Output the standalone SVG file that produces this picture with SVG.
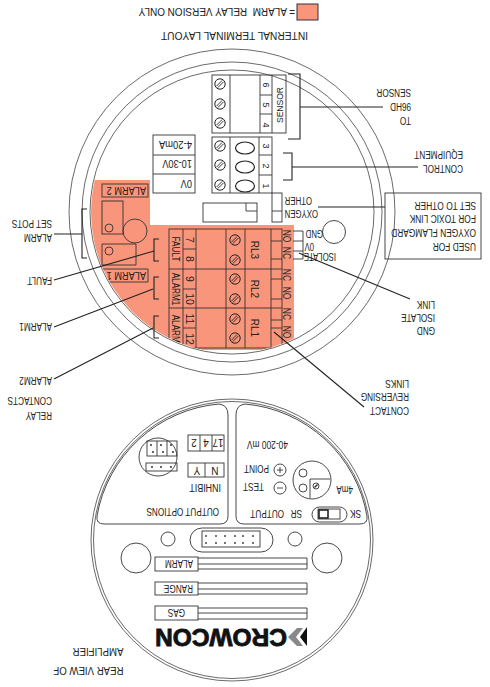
<svg xmlns="http://www.w3.org/2000/svg" width="490" height="687" viewBox="0 0 490 687">
<style>
text{font-family:"Liberation Sans",Arial,sans-serif;fill:#222}
.l{font-size:10.500px}
.s{font-size:10px}
.n{font-size:9px;text-anchor:middle}
.r{font-size:10.500px;text-anchor:middle}
.k{fill:none;stroke:#333;stroke-width:.9}
.t{fill:none;stroke:#222;stroke-width:1.2}
.a{fill:none;stroke:#444;stroke-width:.8}
.b{fill:none;stroke:#222;stroke-width:1.1}
</style>
<defs>
<clipPath id="inner"><circle cx="232" cy="212" r="141"/></clipPath>
<g id="screw"><circle r="5.2" fill="none" stroke="#222" stroke-width="1"/><path d="M-3.6 2.2L2.2-3.6M-2.2 3.6L3.6-2.2" stroke="#222" stroke-width=".9"/></g>
</defs>

<g id="legend">
<rect x="297" y="4" width="21" height="16" fill="#f8957a" stroke="#333"/>
<text class="l" transform="translate(295,8) rotate(180) scale(.95,1)" xml:space="preserve">= ALARM  RELAY VERSION ONLY</text>
<text transform="translate(308,32) rotate(180) scale(.93,1)" style="font-size:11px">INTERNAL TERMINAL LAYOUT</text>
</g>

<g id="housing">
<circle class="a" cx="232" cy="212" r="163"/>
<circle class="a" cx="232" cy="212" r="150"/>
<circle class="a" cx="232" cy="212" r="142"/>
</g>

<g id="relay-area">
<path clip-path="url(#inner)" d="M90 180H150V225H294V350H90Z" fill="#f8957a"/>
</g>

<g id="sensor-terminals">
<rect class="k" x="212" y="75" width="74" height="58"/>
<path class="k" d="M230 75V133M260 75V133M272 75V133M260 95H272M260 114H272"/>
<use href="#screw" x="220" y="84"/><use href="#screw" x="220" y="104"/><use href="#screw" x="220" y="123"/>
<text class="n" transform="translate(266,85) rotate(90)" dy="3">6</text>
<text class="n" transform="translate(266,105) rotate(90)" dy="3">5</text>
<text class="n" transform="translate(266,125) rotate(90)" dy="3">4</text>
<text class="n" transform="translate(279,105) rotate(-90) scale(.95,1)" dy="3.500">SENSOR</text>
</g>

<g id="control-terminals">
<rect class="k" x="212" y="137" width="60" height="56"/>
<path class="k" d="M230 137V193M259 137V193M259 155H272M259 175H272"/>
<use href="#screw" x="220" y="146"/><use href="#screw" x="220" y="165"/><use href="#screw" x="220" y="185"/>
<ellipse class="t" cx="245" cy="148" rx="9.500" ry="6"/><ellipse class="t" cx="245" cy="167" rx="9.500" ry="6"/><ellipse class="t" cx="245" cy="186" rx="9.500" ry="6"/>
<text class="n" transform="translate(266,146) rotate(90)" dy="3">3</text>
<text class="n" transform="translate(266,166) rotate(90)" dy="3">2</text>
<text class="n" transform="translate(266,186) rotate(90)" dy="3">1</text>
</g>

<g id="supply-box">
<rect class="k" x="153" y="135" width="42" height="58"/>
<path class="k" d="M153 155H195M153 174H195"/>
<text class="l" transform="translate(192,141) rotate(180) scale(.9,1)">4-20mA</text>
<text class="l" transform="translate(192,160) rotate(180) scale(.88,1)">10-30V</text>
<text class="l" transform="translate(192,180) rotate(180) scale(.88,1)">0V</text>
</g>

<g id="oxygen-link">
<rect class="k" x="272" y="193" width="10" height="29"/>
<path class="k" d="M272 211H282"/>
<rect class="k" x="203" y="203" width="54" height="19"/>
<path class="k" d="M246 203V211H257"/>
<text class="s" transform="translate(312,197) rotate(180) scale(.78,1)">OTHER</text>
<text class="s" transform="translate(318,210) rotate(180) scale(.78,1)">OXYGEN</text>
</g>

<g id="isolate-link">
<circle class="k" cx="334" cy="232" r="11.500"/>
<path class="k" d="M293 231H303V259H293M293 241H303M293 251H303"/>
<text class="s" transform="translate(323,230) rotate(180) scale(.78,1)">GND</text>
<text class="s" transform="translate(314,243) rotate(180) scale(.78,1)">0V</text>
<text class="s" transform="translate(336,253) rotate(180) scale(.78,1)">ISOLATE</text>
</g>

<g id="alarm-pots">
<rect class="k" x="102" y="201" width="21" height="33"/>
<circle class="k" cx="109" cy="228" r="4"/>
<circle class="k" cx="135" cy="231" r="12"/>
<path class="k" clip-path="url(#inner)" d="M102 244H136V265H102Z"/>
<circle class="k" cx="109" cy="251" r="4"/>
<rect class="k" x="102" y="184" width="46" height="13"/>
<text class="l" transform="translate(146,187) rotate(180) scale(.88,1)">ALARM 2</text>
<g clip-path="url(#inner)">
<path class="k" d="M102 269H148V282H102Z"/>
<text class="l" transform="translate(146,272) rotate(180) scale(.88,1)">ALARM 1</text>
</g>
</g>

<g id="relay-terminals" clip-path="url(#inner)">
<rect class="k" x="169" y="229" width="113" height="119"/>
<path class="k" d="M183 229V348M196 229V348M226 229V348M245 229V348M271 229V348M169 269H271M169 308H271M183 249H196M183 289H196M183 328H196"/>
<path class="k" d="M271 241H282M271 259H282M271 269H282M271 279H282M271 299H282M271 308H282M271 320H282M271 328H282"/>
<use href="#screw" x="235" y="240"/><use href="#screw" x="235" y="260"/><use href="#screw" x="235" y="279"/><use href="#screw" x="235" y="299"/><use href="#screw" x="235" y="319"/><use href="#screw" x="235" y="338"/>
<text class="r" transform="translate(189.500,240) rotate(90)" dy="3.500">7</text>
<text class="r" transform="translate(189.500,259) rotate(90)" dy="3.500">8</text>
<text class="r" transform="translate(189.500,279) rotate(90)" dy="3.500">9</text>
<text class="r" transform="translate(189.500,299) rotate(90)" dy="3.500">10</text>
<text class="r" transform="translate(189.500,319) rotate(90)" dy="3.500">11</text>
<text class="r" transform="translate(189.500,339) rotate(90)" dy="3.500">12</text>
<text class="r" transform="translate(176,249) rotate(90) scale(.78,1)" dy="3.500">FAULT</text>
<text class="r" transform="translate(176,289) rotate(90) scale(.78,1)" dy="3.500">ALARM1</text>
<text class="r" transform="translate(176,331) rotate(90) scale(.78,1)" dy="3.500">ALARM2</text>
<text class="r" transform="translate(255,250) rotate(90) scale(.95,1)" dy="4">RL3</text>
<text class="r" transform="translate(255,289) rotate(90) scale(.95,1)" dy="4">RL2</text>
<text class="r" transform="translate(255,328) rotate(90) scale(.95,1)" dy="4">RL1</text>
</g>

<g id="link-labels">
<text class="s" style="text-anchor:middle" transform="translate(287,236) rotate(90) scale(.85,1)" dy="3.500">NO</text>
<text class="s" style="text-anchor:middle" transform="translate(287,253) rotate(90) scale(.85,1)" dy="3.500">NC</text>
<text class="s" style="text-anchor:middle" transform="translate(287,275) rotate(90) scale(.85,1)" dy="3.500">NC</text>
<text class="s" style="text-anchor:middle" transform="translate(287,293) rotate(90) scale(.85,1)" dy="3.500">NO</text>
<text class="s" style="text-anchor:middle" transform="translate(287,314) rotate(90) scale(.85,1)" dy="3.500">NC</text>
<text class="s" style="text-anchor:middle" transform="translate(287,332) rotate(90) scale(.85,1)" dy="3.500">NO</text>
</g>

<g id="connectors">
<path class="b" d="M288 74H300V139H288M300 107H383"/>
<path class="b" d="M283 153H292V180H283M292 167H418"/>
<path class="b" d="M318 207H385"/>
<path class="b" d="M299 253L410 299"/>
<path class="b" d="M274 332L364 407"/>
<path class="b" d="M87 209H82V258H87M54 234H82"/>
<path class="b" d="M159 239H154V261H159M154 251L54 280"/>
<path class="b" d="M159 277H154V299H159M153 289L54 327"/>
<path class="b" d="M159 316H154V338H159M153 328L54 379"/>
</g>

<g id="note-box">
<rect class="k" x="385" y="193" width="96" height="66"/>
<text class="l" transform="translate(476,243) rotate(180) scale(.8,1)">USED FOR</text>
<text class="l" transform="translate(476,229) rotate(180) scale(.8,1)">OXYGEN FLAMGARD</text>
<text class="l" transform="translate(476,215) rotate(180) scale(.8,1)">FOR TOXIC LINK</text>
<text class="l" transform="translate(476,202) rotate(180) scale(.8,1)">SET TO OTHER</text>
</g>

<g id="labels">
<text class="l" transform="translate(411,117) rotate(180) scale(.78,1)">TO</text>
<text class="l" transform="translate(411,103) rotate(180) scale(.78,1)">96HD</text>
<text class="l" transform="translate(411,89) rotate(180) scale(.78,1)">SENSOR</text>
<text class="l" transform="translate(463,165) rotate(180) scale(.78,1)">CONTROL</text>
<text class="l" transform="translate(463,151) rotate(180) scale(.78,1)">EQUIPMENT</text>
<text class="l" transform="translate(435,327) rotate(180) scale(.78,1)">GND</text>
<text class="l" transform="translate(435,314) rotate(180) scale(.78,1)">ISOLATE</text>
<text class="l" transform="translate(435,301) rotate(180) scale(.78,1)">LINK</text>
<text class="l" transform="translate(409,407) rotate(180) scale(.78,1)">CONTACT</text>
<text class="l" transform="translate(409,393) rotate(180) scale(.78,1)">REVERSING</text>
<text class="l" transform="translate(409,380) rotate(180) scale(.78,1)">LINKS</text>
<text class="l" transform="translate(52,234) rotate(180) scale(.78,1)">ALARM</text>
<text class="l" transform="translate(52,220) rotate(180) scale(.78,1)">SET POTS</text>
<text class="l" transform="translate(52,277) rotate(180) scale(.78,1)">FAULT</text>
<text class="l" transform="translate(52,323) rotate(180) scale(.78,1)">ALARM1</text>
<text class="l" transform="translate(52,377) rotate(180) scale(.78,1)">ALARM2</text>
<text class="l" transform="translate(52,397) rotate(180) scale(.78,1)">CONTACTS</text>
<text class="l" transform="translate(52,412) rotate(180) scale(.78,1)">RELAY</text>
<text class="l" transform="translate(123.500,648) rotate(180) scale(.92,1)">AMPLIFIER</text>
<text class="l" transform="translate(123.500,667) rotate(180) scale(.92,1)">REAR VIEW OF</text>
</g>

<g id="amplifier-body">
<circle class="a" cx="232" cy="540" r="141"/>
<circle class="a" cx="232" cy="540" r="138.500"/>
</g>

<g id="output-options">
<path class="k" d="M219 404Q228 405 228 415V516Q228 524 220 524H104Q96 524 97 516A136 136 0 0 1 219 404Z"/>
<circle class="k" cx="158" cy="457" r="19"/>
<rect class="k" x="147" y="441" width="30" height="15"/>
<path class="k" d="M157 441V456M167 441V456"/>
<g fill="#333"><circle cx="151" cy="445" r="1"/><circle cx="153" cy="452" r="1"/><circle cx="161" cy="445" r="1"/><circle cx="163" cy="452" r="1"/><circle cx="171" cy="445" r="1"/><circle cx="173" cy="452" r="1"/><circle cx="152" cy="467" r="1"/><circle cx="161" cy="467" r="1"/><circle cx="171" cy="467" r="1"/></g>
<rect class="k" x="146" y="463" width="31" height="8"/>
<rect class="k" x="188" y="435" width="36" height="16"/>
<path class="k" d="M200 435V451M212 435V451"/>
<text class="s" style="text-anchor:middle" transform="translate(194,439) rotate(180)">2</text>
<text class="s" style="text-anchor:middle" transform="translate(206,439) rotate(180)">4</text>
<text class="s" style="text-anchor:middle" transform="translate(218,439) rotate(180)">17</text>
<rect class="k" x="188" y="463" width="36" height="14"/>
<path class="k" d="M205 463V477"/>
<text class="s" style="text-anchor:middle" transform="translate(197,467) rotate(180)">Y</text>
<text class="s" style="text-anchor:middle" transform="translate(215,467) rotate(180)">N</text>
<text class="l" transform="translate(221,484) rotate(180) scale(.85,1)">INHIBIT</text>
<text class="l" transform="translate(219,508) rotate(180) scale(.78,1)">OUTPUT OPTIONS</text>
</g>

<g id="output-panel">
<path class="k" d="M245 404Q236 405 236 415V516Q236 524 244 524H360Q368 524 367 516A136 136 0 0 0 245 404Z"/>
<text class="l" transform="translate(288,441) rotate(180) scale(.8,1)">40-200 mV</text>
<circle class="k" cx="312" cy="480" r="19"/>
<circle class="k" cx="303" cy="473" r="4"/><circle class="k" cx="303" cy="488" r="4"/>
<path class="k" d="M310 498V479H330"/>
<circle class="k" cx="316" cy="486" r="3"/><path d="M314.500 487.500L317.500 484.500" stroke="#222" stroke-width="1.200"/>
<text class="l" transform="translate(353,486) rotate(180) scale(.78,1)">4mA</text>
<circle class="k" cx="280" cy="470" r="6"/><path class="k" d="M277 470H283M280 467V473"/>
<circle class="k" cx="280" cy="488" r="6"/><path class="k" d="M277 488H283"/>
<text class="l" transform="translate(269,465) rotate(180) scale(.78,1)">POINT</text>
<text class="l" transform="translate(264,483) rotate(180) scale(.78,1)">TEST</text>
<text class="l" transform="translate(284,510) rotate(180) scale(.78,1)">OUTPUT</text>
<text class="l" transform="translate(302,510) rotate(180) scale(.78,1)">SR</text>
<text class="l" transform="translate(361,510) rotate(180) scale(.78,1)">SK</text>
<rect class="k" x="312" y="507" width="35" height="15" rx="7.500"/>
<rect class="k" x="318" y="509" width="22" height="10"/>
<rect x="319" y="510" width="9" height="8" fill="#fff" stroke="#222" stroke-width="1.600"/>
</g>

<g id="front-panel">
<rect class="k" x="190" y="528" width="83" height="24" rx="12"/>
<rect class="k" x="202" y="531" width="58" height="16"/>
<g fill="#333"><circle cx="206" cy="536" r=".9"/><circle cx="216" cy="536" r=".9"/><circle cx="225" cy="536" r=".9"/><circle cx="235" cy="536" r=".9"/><circle cx="243" cy="536" r=".9"/><circle cx="253" cy="536" r=".9"/><circle cx="206" cy="543" r=".9"/><circle cx="216" cy="543" r=".9"/><circle cx="225" cy="543" r=".9"/><circle cx="235" cy="543" r=".9"/><circle cx="243" cy="543" r=".9"/><circle cx="253" cy="543" r=".9"/></g>
<circle class="k" cx="168" cy="539" r="7"/><circle class="k" cx="295" cy="539" r="7"/>
<circle class="k" cx="136" cy="558" r="15"/><circle class="k" cx="327" cy="558" r="15"/>
<rect class="k" x="155" y="557" width="43" height="14"/><path class="k" d="M198 558H307V569H198M198 564H307"/>
<text class="l" transform="translate(193,560) rotate(180) scale(.78,1)">ALARM</text>
<rect class="k" x="155" y="582" width="43" height="13"/><path class="k" d="M198 583H307V594H198M198 589H307"/>
<text class="l" transform="translate(193,585) rotate(180) scale(.78,1)">RANGE</text>
<rect class="k" x="155" y="606" width="43" height="14"/><path class="k" d="M198 608H307V619H198M198 613H307"/>
<text class="l" transform="translate(185,609) rotate(180) scale(.78,1)">GAS</text>
</g>

<g id="logo">
<text transform="translate(287,628.500) rotate(180)" style="font-size:23px;font-weight:bold;fill:#111;stroke:#111;stroke-width:.8" textLength="132" lengthAdjust="spacingAndGlyphs">CROWCON</text>
<polygon points="300,637 307,627 307,646" fill="#111"/>
<polygon points="288,637 297,628 303,628 296,637 303,646 297,646" fill="#888"/>
</g>
</svg>
